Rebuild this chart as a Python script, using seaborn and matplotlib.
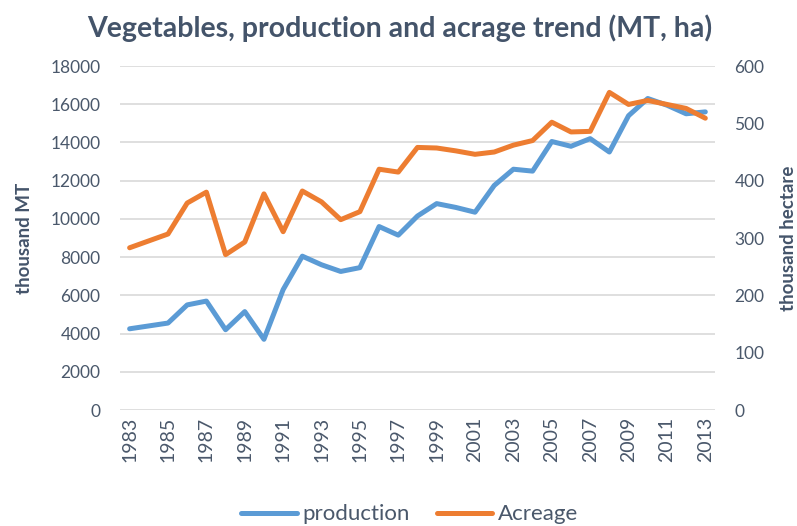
import numpy as np
import pandas as pd
import matplotlib
matplotlib.use("Agg")
import matplotlib.pyplot as plt
import seaborn as sns

# ---------- Data ----------
years = list(range(1983, 2014))
production = [4250, 4400, 4550, 5500, 5700, 4200, 5150, 3700, 6300, 8050,
              7600, 7250, 7450, 9600, 9150, 10150, 10800, 10600, 10350, 11750,
              12600, 12500, 14050, 13800, 14200, 13500, 15400, 16300, 15950, 15500,
              15600]
acreage = [283, 295, 307, 361, 380, 271, 293, 377, 311, 382,
           363, 332, 346, 420, 415, 458, 457, 452, 446, 450,
           462, 470, 502, 485, 486, 554, 533, 540, 533, 526,
           509]
tick_years = years[::2]

df = pd.DataFrame({"year": years, "production": production, "Acreage": acreage})

sns.set_theme(style="white")
plt.rcParams["font.family"] = ["Lato", "DejaVu Sans"]

BLUE = "#5B9BD5"
ORANGE = "#ED7D31"
TEXT = "#4A586B"
TITLE = "#44546A"
GRID = "#D9D9D9"

fig = plt.figure(figsize=(7.97, 5.26), dpi=100)
ax = fig.add_axes([0.1506, 0.2205, 0.7464, 0.654])
ax2 = ax.twinx()

sns.lineplot(data=df, x="year", y="production", ax=ax, color=BLUE,
             linewidth=3.6, label="production", legend=False)
sns.lineplot(data=df, x="year", y="Acreage", ax=ax2, color=ORANGE,
             linewidth=3.6, label="Acreage", legend=False)

ax.set_xlim(years[0] - 0.5, years[-1] + 0.5)
ax.set_ylim(0, 18000)
ax2.set_ylim(0, 600)
ax.set_yticks(np.arange(0, 18001, 2000))
ax2.set_yticks(np.arange(0, 601, 100))
ax.set_xticks(tick_years)
ax.set_xticklabels([str(y) for y in tick_years], rotation=90)

ax.yaxis.grid(True, color=GRID, linewidth=1.2)
ax.set_axisbelow(True)
for a in (ax, ax2):
    for s in a.spines.values():
        s.set_visible(False)
    a.tick_params(axis="y", length=0, labelsize=12.5, colors=TEXT, pad=14)
ax.tick_params(axis="x", length=0, labelsize=14, colors=TEXT, pad=5)

ax.set_xlabel("")
ax.set_ylabel("thousand MT", fontsize=13.5, fontweight="bold", color=TITLE)
ax2.set_ylabel("thousand hectare", fontsize=13.5, fontweight="bold", color=TITLE)
ax.yaxis.set_label_coords(-0.146, 0.5)
ax2.yaxis.set_label_coords(1.109, 0.5)

fig.text(0.502, 0.946, "Vegetables, production and acrage trend (MT, ha)",
         ha="center", va="center", fontsize=20.5, fontweight="bold", color=TITLE)

h1, l1 = ax.get_legend_handles_labels()
h2, l2 = ax2.get_legend_handles_labels()
leg = fig.legend(h1 + h2, l1 + l2, loc="center", bbox_to_anchor=(0.514, 0.022),
                 ncol=2, frameon=False, fontsize=16, handlelength=2.5,
                 handletextpad=0.25, columnspacing=1.2)
for t in leg.get_texts():
    t.set_color(TEXT)

fig.savefig("out.png", dpi=100)
